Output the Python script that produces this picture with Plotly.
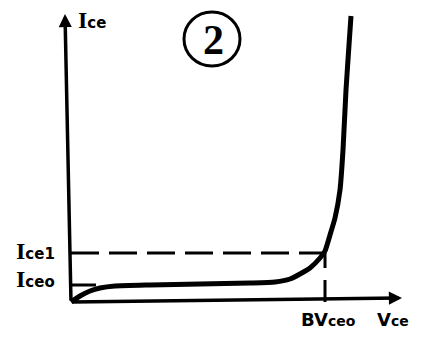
import plotly.graph_objects as go

# Curve (arbitrary units, origin at axes corner)
vce = [0, 9, 19, 29, 44, 79, 129, 179, 204, 219, 229, 239, 249, 254, 259, 264, 269, 272, 275, 278, 280]
ice = [0, 6, 11, 14, 16, 17, 18, 19, 20, 23, 28, 34, 44, 51, 67, 84, 112, 152, 212, 257, 286]

ICE0 = 17
ICE1 = 49
BVCEO = 254

x_axis_end = [331, 4]
y_axis_end = [-6, 288]

fig = go.Figure()

# main curve
fig.add_trace(go.Scatter(x=vce, y=ice, mode="lines",
                         line=dict(color="black", width=5, shape="spline", smoothing=0.5),
                         hoverinfo="skip", showlegend=False))
# Ice1 dashed horizontal
fig.add_trace(go.Scatter(x=[0, BVCEO - 2], y=[ICE1, ICE1], mode="lines",
                         line=dict(color="black", width=3, dash="28px,10px"),
                         hoverinfo="skip", showlegend=False))
# BVceo dashed vertical
fig.add_trace(go.Scatter(x=[BVCEO, BVCEO], y=[ICE1, 0], mode="lines",
                         line=dict(color="black", width=3, dash="15px,12px,30px"),
                         hoverinfo="skip", showlegend=False))
# Iceo short line
fig.add_trace(go.Scatter(x=[0, 25], y=[ICE0, ICE0], mode="lines",
                         line=dict(color="black", width=3),
                         hoverinfo="skip", showlegend=False))

# axes with arrows
for end in (y_axis_end, x_axis_end):
    fig.add_annotation(x=end[0], y=end[1], ax=0, ay=0, axref="x", ayref="y",
                       xref="x", yref="y", text="", showarrow=True, arrowhead=2,
                       arrowwidth=3.5, arrowsize=0.75, arrowcolor="black")

def lab(big, small, x, y, xanchor="center"):
    txt = (f"<b>{big}</b><span style='font-family:DejaVu Sans;font-size:15px'><b>{small}</b></span>")
    fig.add_annotation(x=x, y=y, xref="x", yref="y", text=txt, showarrow=False,
                       xanchor=xanchor, yanchor="middle",
                       font=dict(family="Liberation Serif", color="black", size=24))

lab("I", "ce", 5, 282, xanchor="left")
lab("I", "ce1", -14, 51, xanchor="right")
lab("I", "ceo", -14, 23, xanchor="right")

fig.add_annotation(x=257, y=-17, xref="x", yref="y", text="<b>BV<span style='font-size:14px'>ceo</span></b>",
                   showarrow=False, font=dict(family="DejaVu Sans", size=18, color="black"))
fig.add_annotation(x=322, y=-17, xref="x", yref="y", text="<b>V<span style='font-size:14px'>ce</span></b>",
                   showarrow=False, font=dict(family="DejaVu Sans", size=18, color="black"))

# circled 2
fig.add_shape(type="circle", xref="x", yref="y", x0=141 - 28, x1=141 + 28, y0=263 - 27, y1=263 + 27,
              line=dict(color="black", width=3))
fig.add_annotation(x=142, y=262, xref="x", yref="y", text="<b>2</b>", showarrow=False,
                   font=dict(family="Liberation Serif", size=42, color="black"))

fig.update_xaxes(range=[-71, 350], visible=False)
fig.update_yaxes(range=[-39, 302], visible=False)
fig.update_layout(width=421, height=341, autosize=False, margin=dict(l=0, r=0, t=0, b=0),
                  plot_bgcolor="white", paper_bgcolor="white")

fig.write_html("out.html")
